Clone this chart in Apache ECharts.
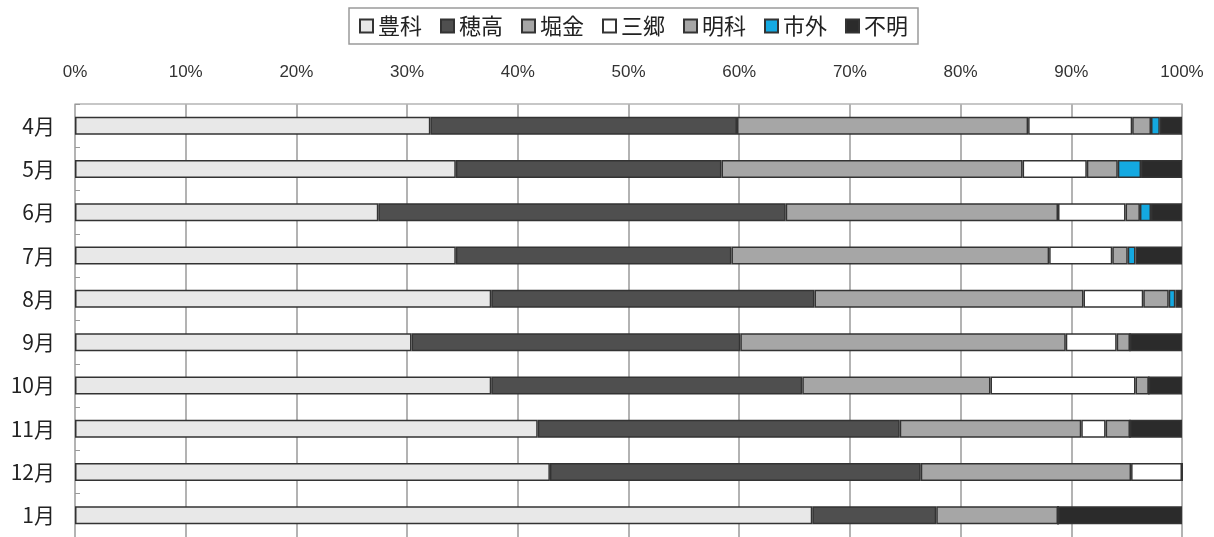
<!DOCTYPE html>
<html>
<head>
<meta charset="utf-8">
<script src="https://cdn.jsdelivr.net/npm/echarts@6/dist/echarts.min.js"></script>
<style>
  html, body { margin: 0; padding: 0; background: #fff; }
  #chart { width: 1214px; height: 537px; }
</style>
</head>
<body>
<div id="chart"></div>
<script>
// Monthly share (%) by area
const months = ['4月', '5月', '6月', '7月', '8月', '9月', '10月', '11月', '12月', '1月'];
const areaNames = ['豊科', '穂高', '堀金', '三郷', '明科', '市外', '不明'];

const toyoshina = [32.1, 34.4, 27.4, 34.4, 37.6, 30.4, 37.6, 41.8, 42.9, 66.6];
const hotaka    = [27.7, 24.0, 36.8, 24.9, 29.2, 29.7, 28.1, 32.7, 33.5, 11.2];
const horigane  = [26.3, 27.2, 24.6, 28.7, 24.3, 29.4, 17.0, 16.4, 19.0, 11.0];
const misato    = [9.4, 5.8, 6.1, 5.7, 5.4, 4.6, 13.1, 2.2, 4.6, 0];
const akashina  = [1.7, 2.8, 1.3, 1.4, 2.3, 1.2, 1.2, 2.2, 0, 0];
const shigai    = [0.8, 2.1, 1.0, 0.7, 0.6, 0, 0, 0, 0, 0];
const fumei     = [2.0, 3.7, 2.8, 4.2, 0.6, 4.7, 3.0, 4.7, 0, 11.2];

const xTicks = [0, 10, 20, 30, 40, 50, 60, 70, 80, 90, 100];

const seriesData = [toyoshina, hotaka, horigane, misato, akashina, shigai, fumei];
const fills = ['#e8e8e8', '#4f4f4f', '#a6a6a6', '#ffffff', '#a6a6a6', '#14a9e1', '#2b2b2b'];

const series = areaNames.map((name, i) => ({
  name: name,
  type: 'bar',
  stack: 'total',
  barWidth: 18,
  data: seriesData[i],
  itemStyle: { color: fills[i], borderColor: '#333', borderWidth: 1.5 }
}));

const chart = echarts.init(document.getElementById('chart'), null, { renderer: 'canvas' });
chart.setOption({
  animation: false,
  textStyle: { fontFamily: '"Noto Sans CJK JP", sans-serif' },
  legend: {
    top: 8,
    left: 349,
    icon: 'rect',
    itemWidth: 13,
    itemHeight: 13,
    itemGap: 18,
    padding: [7, 10, 7, 10],
    borderColor: '#9a9a9a',
    borderWidth: 1.5,
    textStyle: { fontSize: 22, color: '#222' },
    data: areaNames
  },
  grid: { left: 75, right: 32, top: 104, bottom: 0 },
  xAxis: {
    type: 'value',
    position: 'top',
    min: 0,
    max: 100,
    interval: 10,
    axisLine: { show: true, lineStyle: { color: '#b5b5b5', width: 1.5 } },
    axisTick: { show: false },
    splitLine: { show: true, lineStyle: { color: '#9a9a9a', width: 1.5 } },
    axisLabel: {
      margin: 23,
      fontSize: 17,
      color: '#333',
      fontFamily: '"Liberation Sans Narrow", "Liberation Sans", sans-serif',
      formatter: v => xTicks.includes(v) ? v + '%' : ''
    }
  },
  yAxis: {
    type: 'category',
    inverse: true,
    data: months,
    axisLine: { show: false },
    axisTick: { show: true, inside: true, length: 5, lineStyle: { color: '#999' } },
    axisLabel: { margin: 20, fontSize: 21, color: '#222' }
  },
  series: series
});
</script>
</body>
</html>
